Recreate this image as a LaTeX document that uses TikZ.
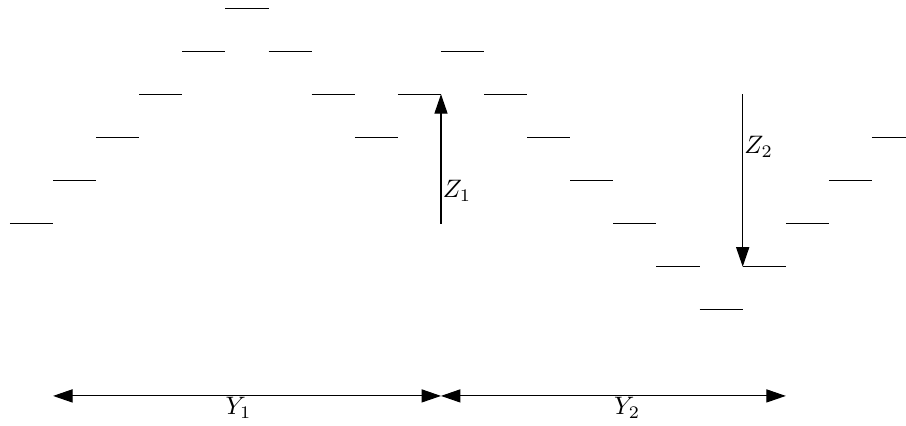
\documentclass[tikz,border=0pt]{standalone}
\usepackage{amsmath,amssymb}
\usepackage{tikz}
\usetikzlibrary{arrows.meta}

\begin{document}
\begin{tikzpicture}[x=0.6cm,y=0.6cm,>={Triangle[length=7.7pt,width=5.2pt]}]
\useasboundingbox (-0.232,0.186) rectangle (20.789,-9.675);
% steps of the walk: column/level
\foreach \k/\r in {0/5,1/4,2/3,3/2,4/1,5/0,6/1,7/2,8/3,9/2,10/1,11/2,12/3,13/4,14/5,15/6,16/7,17/6,18/5,19/4,20/3}
  \draw (\k,-\r) -- ++(1,0);
\coordinate (zonebot) at (10,-5);
\coordinate (zonetop) at (10,-2);
\coordinate (ztwotop) at (17,-2);
\coordinate (ztwobot) at (17,-6);
\coordinate (yleft) at (1,-9);
\coordinate (ymid) at (10,-9);
\coordinate (yright) at (18,-9);
\draw[->] (zonebot) -- (zonetop) node[pos=0.25,right,inner sep=0.5pt] {$Z_1$};
\draw[->] (ztwotop) -- (ztwobot) node[pos=0.305,right,inner sep=0.5pt] {$Z_2$};
\draw[<->] (yleft) -- (ymid) node[pos=0.478,below,inner sep=0.5pt] {$Y_1$};
\draw[<->] (ymid) -- (yright) node[pos=0.54,below,inner sep=0.5pt] {$Y_2$};
\end{tikzpicture}
\end{document}
